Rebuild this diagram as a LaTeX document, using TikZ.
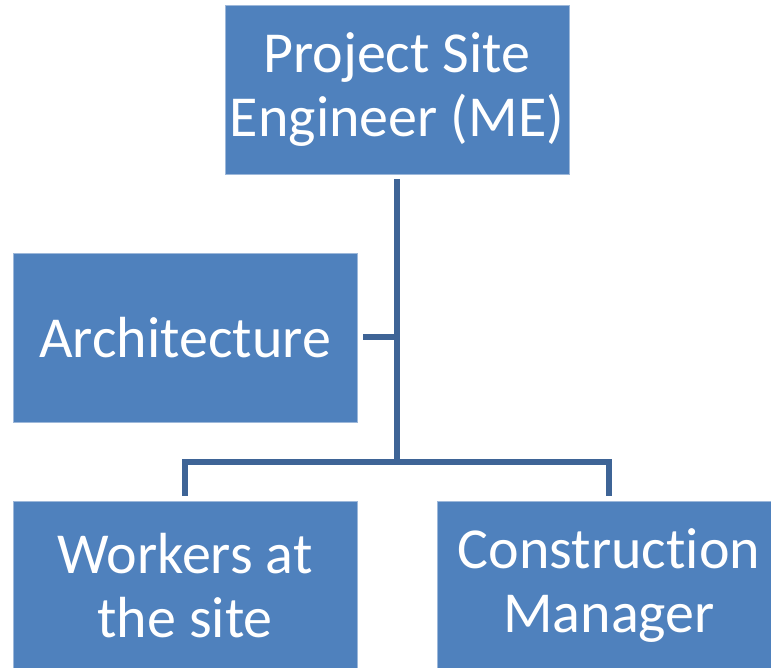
\documentclass[tikz,border=0pt]{standalone}
\usepackage{fontspec}
\setmainfont[Ligatures=NoCommon]{Carlito}
\definecolor{boxblue}{HTML}{4F81BD}
\definecolor{boxedge}{HTML}{9DB8DA}
\definecolor{linkblue}{HTML}{3E6496}
\begin{document}
\begin{tikzpicture}[x=1pt,y=1pt,
  orgbox/.style={rectangle, fill=boxblue, draw=boxedge, line width=0.8pt,
    minimum width=344pt, minimum height=169pt, inner sep=0pt, align=center,
    text=white, font=\fontsize{58}{64}\selectfont},
  conn/.style={draw=linkblue, line width=6pt}]
\useasboundingbox (0,0) rectangle (771,667);
\begin{scope}
\clip (0,0) rectangle (771,667);
\node[orgbox] (top) at (397,577.5) {Project Site\\Engineer (ME)};
\node[orgbox] (arch) at (185,329.5) {Architecture};
\node[orgbox] (workers) at (185,81.5) {Workers at\\the site};
\node[orgbox] (cm) at (609,81.5) {Construction\\Manager};
\coordinate (j) at (397,205);
\draw[conn, shorten <=5pt, shorten >=5pt] (top.south) -- (j) -| (workers.north);
\draw[conn, shorten >=5pt] (j) -| (cm.north);
\draw[conn, shorten <=6pt] (arch.east) -- (arch.east -| top.south);
\end{scope}
\end{tikzpicture}
\end{document}
